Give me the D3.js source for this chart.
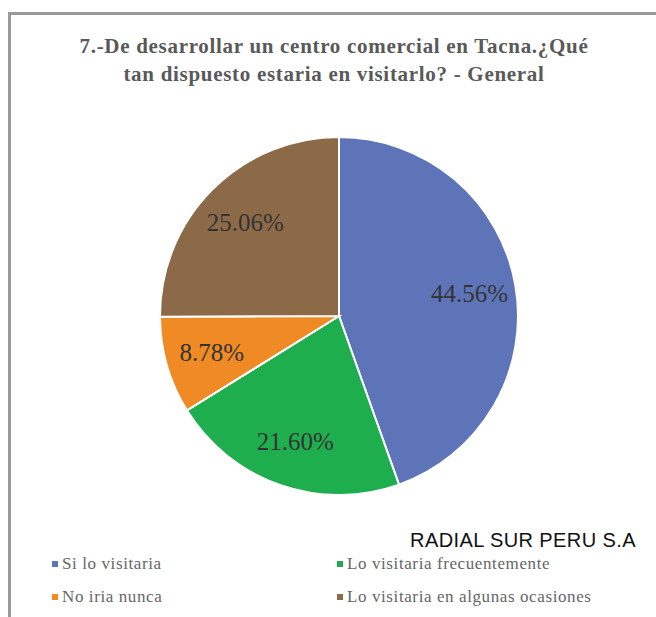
<!DOCTYPE html>
<html lang="es">
  <head>
    <meta charset="UTF-8">
    <title>Centro comercial Tacna</title>
    <style>
body {margin: 0; background: #fff;}
</style>
  </head>
  <body>
<script src="https://d3js.org/d3.v7.min.js"></script>
<div id="my_dataviz"></div>
    <script>

// data
var categories = ["Si lo visitaria", "Lo visitaria frecuentemente", "No iria nunca", "Lo visitaria en algunas ocasiones"];
var values = [44.56, 21.60, 8.78, 25.06];
var colors = ["#5e74b9", "#1eae4e", "#ef8a24", "#8c6a48"];
var titleLines = ["7.-De desarrollar un centro comercial en Tacna.¿Qué", "tan dispuesto estaria en visitarlo? - General"];
var watermark = "RADIAL SUR PERU S.A";

var width = 656, height = 617;
var serif = "'Liberation Serif', 'Times New Roman', serif";

var svg = d3.select("#my_dataviz")
  .append("svg")
    .attr("width", width)
    .attr("height", height);

// frame (only top and left edges are visible in the crop)
svg.append("path")
  .attr("d", "M9.5," + height + " V13.5 H" + width)
  .attr("fill", "none")
  .attr("stroke", "#9a9a9a")
  .attr("stroke-width", 3);

// title
svg.append("g")
  .selectAll("text")
  .data(titleLines)
  .enter()
  .append("text")
    .attr("x", 334)
    .attr("y", function(d, i) { return 53 + i * 28; })
    .attr("text-anchor", "middle")
    .attr("font-family", serif)
    .attr("font-weight", "bold")
    .attr("font-size", 21)
    .attr("letter-spacing", 0.7)
    .attr("fill", "#595959")
    .text(function(d) { return d; });

// pie
var cx = 339, cy = 316, radius = 179;
var pie = d3.pie().sort(null).value(function(d) { return d; });
var arc = d3.arc().innerRadius(0).outerRadius(radius);
var labelArc = d3.arc().innerRadius(radius * 0.74).outerRadius(radius * 0.74);

var g = svg.append("g")
  .attr("transform", "translate(" + cx + "," + cy + ")");

var arcs = pie(values);

g.selectAll("path")
  .data(arcs)
  .enter()
  .append("path")
    .attr("d", arc)
    .attr("fill", function(d, i) { return colors[i]; })
    .attr("stroke", "#fff")
    .attr("stroke-width", 2);

g.selectAll("text")
  .data(arcs)
  .enter()
  .append("text")
    .attr("transform", function(d) { return "translate(" + labelArc.centroid(d) + ")"; })
    .attr("dy", "0.35em")
    .attr("text-anchor", "middle")
    .attr("font-family", serif)
    .attr("font-size", 25)
    .attr("fill", "#333")
    .text(function(d) { return d.data.toFixed(2) + "%"; });

// watermark
svg.append("text")
  .attr("x", 523)
  .attr("y", 547)
  .attr("text-anchor", "middle")
  .attr("font-family", "'Liberation Sans', Arial, sans-serif")
  .attr("font-size", 20)
  .attr("letter-spacing", 0.4)
  .attr("fill", "#111")
  .text(watermark);

// legend, two columns
var legend = svg.append("g")
  .selectAll("g")
  .data(categories)
  .enter()
  .append("g")
    .attr("transform", function(d, i) {
      return "translate(" + (i % 2 === 0 ? 52 : 337) + "," + (i < 2 ? 569 : 602) + ")";
    });

legend.append("rect")
  .attr("x", 0)
  .attr("y", -8)
  .attr("width", 6)
  .attr("height", 6)
  .attr("fill", function(d, i) { return colors[i]; });

legend.append("text")
  .attr("x", 10)
  .attr("y", 0)
  .attr("font-family", serif)
  .attr("font-size", 17)
  .attr("letter-spacing", 0.6)
  .attr("fill", "#666")
  .text(function(d) { return d; });

</script>
  </body>
</html>
